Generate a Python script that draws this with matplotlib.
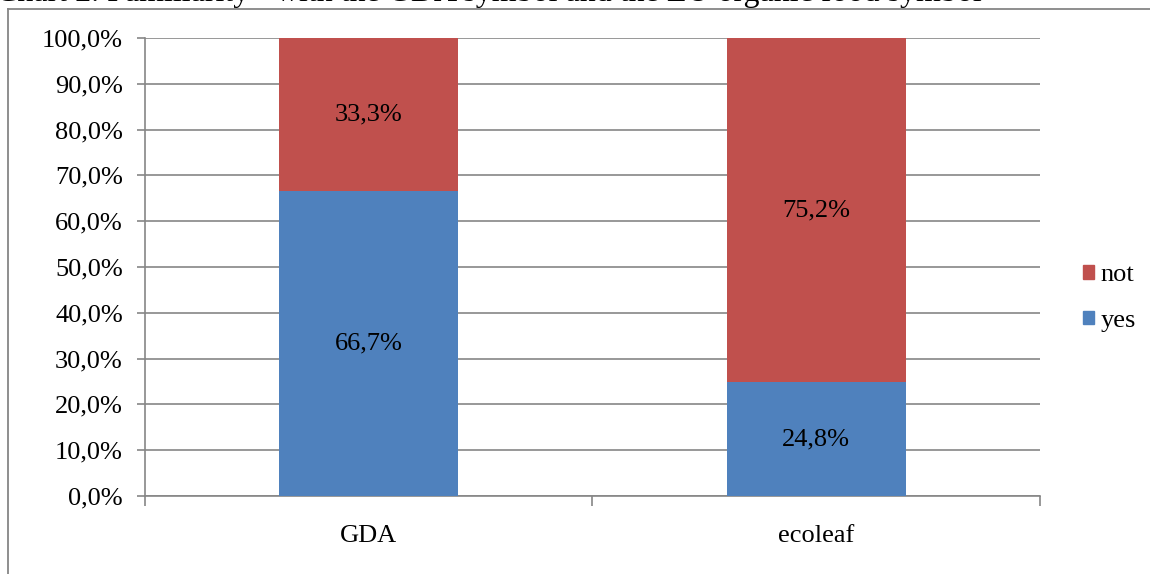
import matplotlib
matplotlib.use("Agg")
import matplotlib.pyplot as plt
from matplotlib.lines import Line2D
from matplotlib.patches import Patch

categories = ["GDA", "ecoleaf"]
yes_vals = [66.7, 24.8]
not_vals = [33.3, 75.2]
yticks = [0, 10, 20, 30, 40, 50, 60, 70, 80, 90, 100]
title = "Chart 2. Familiarity - with the GDA symbol and the EU organic food symbol"

BLUE = "#4F81BD"
RED = "#C0504D"
GRID = "#868686"
FONT = "Liberation Serif"
plt.rcParams['font.family'] = [FONT, 'DejaVu Serif']
FS = 19

W, H = 1150, 574
fig = plt.figure(figsize=(W / 100, H / 100), dpi=100)

def fx(px):
    return px / W

def fy(py):
    return 1 - py / H

# outer chart frame (partially visible)
fig.add_artist(Line2D([fx(8), fx(8)], [fy(9), fy(H + 5)], color=GRID, lw=1.3, transform=fig.transFigure))
fig.add_artist(Line2D([fx(8), fx(W + 5)], [fy(9), fy(9)], color=GRID, lw=1.3, transform=fig.transFigure))

# cropped title
fig.text(fx(-4), fy(1), title, fontsize=23, va='baseline', ha='left', family=FONT)

ax = fig.add_axes([fx(145), fy(496), fx(1040) - fx(145), fy(38) - fy(496)])
x = list(range(len(categories)))
ax.bar(x, yes_vals, width=0.4, color=BLUE, label="yes", zorder=3)
ax.bar(x, not_vals, width=0.4, bottom=yes_vals, color=RED, label="not", zorder=3)

for i in x:
    ax.text(i, yes_vals[i] / 2, f"{yes_vals[i]:.1f}%".replace(".", ","),
            ha='center', va='center', fontsize=FS, zorder=4)
    ax.text(i, yes_vals[i] + not_vals[i] / 2, f"{not_vals[i]:.1f}%".replace(".", ","),
            ha='center', va='center', fontsize=FS, zorder=4)

ax.set_xlim(-0.5, len(categories) - 0.5)
ax.set_ylim(0, 100)
ax.set_yticks(yticks)
ax.set_yticklabels([f"{v:.1f}%".replace(".", ",") for v in yticks], fontsize=FS)
ax.yaxis.grid(True, color=GRID, lw=1.2, zorder=0)
ax.set_axisbelow(True)

ax.set_xticks([i - 0.5 for i in range(len(categories) + 1)], minor=False)
ax.set_xticklabels([])
ax.set_xticks(x, minor=True)
ax.set_xticklabels(categories, minor=True, fontsize=FS)
ax.tick_params(axis='x', which='major', length=7, color=GRID, width=1.2, direction='out')
ax.tick_params(axis='x', which='minor', length=0, pad=21)
ax.tick_params(axis='y', length=6, color=GRID, width=1.2, direction='out', pad=10)

for s in ['top', 'right']:
    ax.spines[s].set_visible(False)
for s in ['left', 'bottom']:
    ax.spines[s].set_color(GRID)
    ax.spines[s].set_linewidth(1.2)

handles = [Patch(color=RED, label="not"), Patch(color=BLUE, label="yes")]
fig.legend(handles=handles, loc='center left', bbox_to_anchor=(fx(1070), fy(298)),
           frameon=False, fontsize=FS, handlelength=0.42, handleheight=0.42,
           handletextpad=0.25, labelspacing=0.9, borderpad=0)

fig.savefig("out.png", dpi=100)
